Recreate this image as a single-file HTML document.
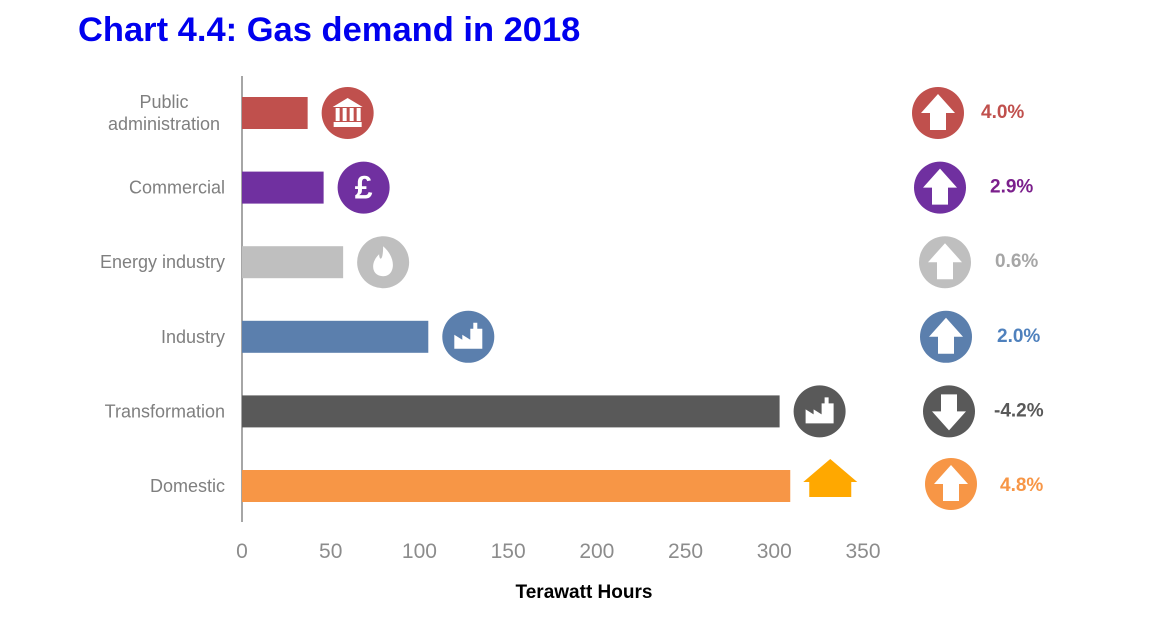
<!DOCTYPE html>
<html><head><meta charset="utf-8"><style>
body{margin:0;background:#fff;width:1175px;height:618px;overflow:hidden;font-family:"Liberation Sans",Arial,sans-serif}
</style></head><body>
<svg width="1175" height="618" xmlns="http://www.w3.org/2000/svg" id="chart">
<text x="78" y="41" font-size="34.5" font-weight="bold" fill="#0000ee">Chart 4.4: Gas demand in 2018</text>
<line x1="242" y1="76" x2="242" y2="522" stroke="#888" stroke-width="1.5"/>
<g id="bars"></g><g id="ticks"></g>
<text x="584" y="598" font-size="19" font-weight="bold" text-anchor="middle" fill="#000">Terawatt Hours</text>
</svg>
<script>
const categories=["Public administration","Commercial","Energy industry","Industry","Transformation","Domestic"];
const values=[37,46,57,105,303,309];
const changes=[4.0,2.9,0.6,2.0,-4.2,4.8];
const colors=["#c0504d","#7030a0","#bfbfbf","#5b7fad","#595959","#f79646"];
const pctColors=["#c0504d","#7b1f8c","#a6a6a6","#4f81bd","#595959","#f79646"];
const ticks=[0,50,100,150,200,250,300,350];
const NS="http://www.w3.org/2000/svg";
const x=v=>242+v*(863-242)/350;
const yc=i=>113+i*74.6;
const arrowX=[938,940,945,946,949,951];
const pctX=[981,990,995,997,994,1000];
function mk(t,a,p){const e=document.createElementNS(NS,t);for(const k in a)e.setAttribute(k,a[k]);p.appendChild(e);return e;}
function glyph(i,cx,y,g){
 if(i==0){mk('path',{d:`M${cx-15} ${y-6} L${cx} ${y-15} L${cx+15} ${y-6}Z M${cx-14} ${y+9} h28 v5 h-28Z M${cx-12} ${y-5} h4 v13 h-4Z M${cx-5} ${y-5} h4 v13 h-4Z M${cx+2} ${y-5} h4 v13 h-4Z M${cx+9} ${y-5} h4 v13 h-4Z`,fill:'#fff'},g);}
 else if(i==1){const t=mk('text',{x:cx,y:y+11,'font-size':32,'font-weight':'bold','text-anchor':'middle',fill:'#fff'},g);t.textContent='£';}
 else if(i==2){mk('path',{d:`M${cx} ${y-16} C${cx+14} ${y-4} ${cx+12} ${y+14} ${cx} ${y+14} C${cx-12} ${y+14} ${cx-13} ${y} ${cx-4} ${y-8} C${cx-4} ${y-2} ${cx} ${y} ${cx} ${y-16}Z`,fill:'#fff'},g);}
 else {mk('path',{d:`M${cx-14} ${y+12} V${y-2} L${cx-6} ${y+3} V${y-2} L${cx+2} ${y+3} V${y-8} h3 v-6 h4 v6 h5 V${y+12}Z`,fill:'#fff'},g);}
}
const g=document.getElementById('bars'),tg=document.getElementById('ticks');
ticks.forEach(t=>{const e=mk('text',{x:x(t),y:558,'font-size':21,'text-anchor':'middle',fill:'#8c8c8c'},tg);e.textContent=t;

});
categories.forEach((c,i)=>{const y=yc(i);
const r=mk('rect',{x:242,y:y-16,width:x(values[i])-242,height:32,fill:colors[i]},g);


const lbl=mk('text',{x:225,'font-size':18,'text-anchor':'end',fill:'#7f7f7f'},g);


if(c==="Public administration"){mk('tspan',{x:164,y:y-5,'text-anchor':'middle'},lbl).textContent="Public";mk('tspan',{x:164,y:y+17,'text-anchor':'middle'},lbl).textContent="administration";}
else{lbl.setAttribute('y',y+6);lbl.textContent=c;}
const cx=x(values[i])+40;
if(i<5){
const ic=mk('circle',{cx:cx,cy:y,r:26,fill:colors[i]},g);


glyph(i,cx,y,g);
}else{
const h=mk('path',{d:`M${cx-27} ${y-4} L${cx} ${y-27} L${cx+27} ${y-4} L${cx+21} ${y-4} L${cx+21} ${y+11} L${cx-21} ${y+11} L${cx-21} ${y-4}Z`,fill:'#ffa800'},g);


}
const ax=arrowX[i],up=changes[i]>=0,ay=y+(i==5?-2:0);
const ac=mk('circle',{cx:ax,cy:ay,r:26,fill:colors[i]},g);


const d=up?`M${ax} ${ay-19} L${ax+17} ${ay} L${ax+8} ${ay} L${ax+8} ${ay+17} L${ax-8} ${ay+17} L${ax-8} ${ay} L${ax-17} ${ay}Z`
:`M${ax} ${ay+19} L${ax+17} ${ay} L${ax+8} ${ay} L${ax+8} ${ay-17} L${ax-8} ${ay-17} L${ax-8} ${ay} L${ax-17} ${ay}Z`;
mk('path',{d:d,fill:'#fff'},g);
const p=mk('text',{x:pctX[i],y:y+5,'font-size':19,'font-weight':'bold',fill:pctColors[i]},g);
p.textContent=changes[i].toFixed(1)+'%';


});
</script>
</body></html>
